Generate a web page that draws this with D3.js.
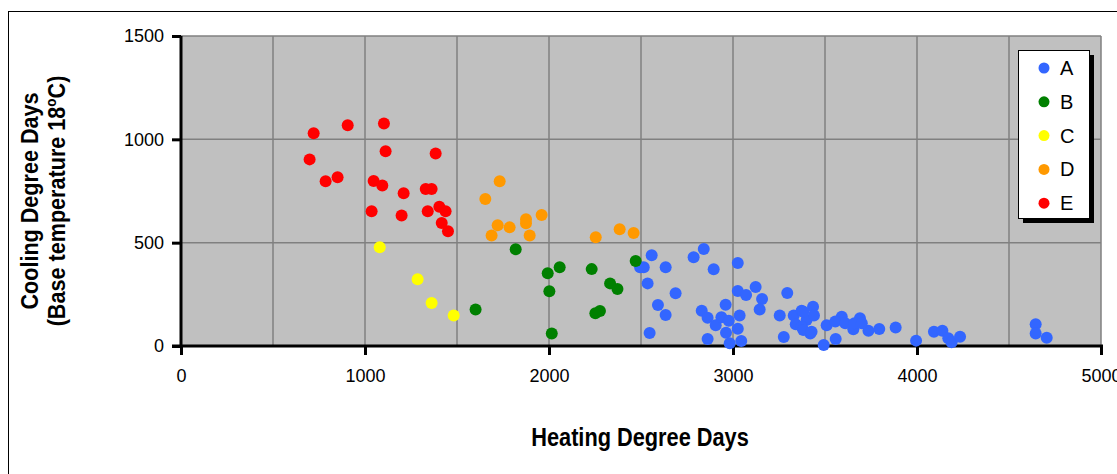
<!DOCTYPE html>
<html>
<head>
<meta charset="utf-8">
<script src="https://cdn.jsdelivr.net/npm/d3@7"></script>
<style>
body{margin:0;background:#fff;}
text{font-family:"Liberation Sans",Arial,sans-serif;}
</style>
</head>
<body>
<div id="viz"></div>
<script>
// series: [heating degree days, cooling degree days]
var seriesA = [[2558,439],[2495,381],[2515,381],[2634,381],[2536,303],[2688,255],[2592,198],[2634,150],[2547,63],
  [2841,469],[2786,429],[2895,371],[3026,402],[3026,266],[3071,247],[3123,285],[3158,227],[3145,177],[3295,256],
  [2960,200],[2830,171],[2862,137],[2906,100],[2937,139],[2977,122],[3036,148],[2962,64],[3026,84],[2862,34],[2982,13],[3045,24],
  [3254,148],[3276,44],[3330,148],[3373,171],[3341,105],[3400,126],[3435,190],[3440,148],[3373,93],[3420,61],[3382,77],[3382,166],[3427,69],
  [3493,5],[3509,100],[3558,34],[3591,142],[3556,118],[3654,81],[3690,134],[3736,74],[3795,82],[3884,89],[3610,110],[3660,110],[3700,110],
  [3995,26],[4092,69],[4138,74],[4170,37],[4188,18],[4234,45],[4645,105],[4645,61],[4705,40]];
var seriesB = [[1601,177],[1819,468],[1993,352],[2058,381],[2002,265],[2015,61],[2232,372],[2332,303],[2372,276],[2252,158],[2277,169],[2471,411]];
var seriesC = [[1080,478],[1286,323],[1362,208],[1482,148]];
var seriesD = [[1732,797],[1654,711],[1721,584],[1786,574],[1688,535],[1875,613],[1875,594],[1895,535],[1960,634],[2254,526],[2384,565],[2460,547]];
var seriesE = [[721,1030],[906,1068],[1103,1077],[699,903],[1112,942],[1384,932],[786,797],[851,816],[1047,798],[1094,777],[1210,739],
  [1330,760],[1362,760],[1036,652],[1199,632],[1341,652],[1404,674],[1438,652],[1417,595],[1451,555]];

var names = ['A','B','C','D','E'];
var colors = ['#3366ff','#008000','#ffff00','#ff9900','#ff0000'];
var allSeries = [seriesA, seriesB, seriesC, seriesD, seriesE];
var xTicks = [0,1000,2000,3000,4000,5000];
var yTicks = [0,500,1000,1500];
var gridX = d3.range(500,5001,500);
var gridY = [500,1000,1500];

var W = 1117, H = 474;
var svg = d3.select('#viz').append('svg')
    .attr('width',W)
    .attr('height',H);

// chart area border
svg.append('rect')
    .attr('x',8.5).attr('y',11.5)
    .attr('width',W).attr('height',H)
    .style('fill','#fff').style('stroke','#000').style('stroke-width',1);

var x = d3.scaleLinear().domain([0,5000]).range([181,1101]);
var y = d3.scaleLinear().domain([0,1500]).range([346,36]);

// plot area
svg.append('rect')
    .attr('x',x(0)).attr('y',y(1500))
    .attr('width',x(5000)-x(0)).attr('height',y(0)-y(1500))
    .style('fill','#c0c0c0');

svg.selectAll('.gx').data(gridX).enter().append('line')
    .attr('x1',function(d){return x(d);}).attr('x2',function(d){return x(d);})
    .attr('y1',y(0)).attr('y2',y(1500))
    .style('stroke','#808080').style('stroke-width',1.5);
svg.selectAll('.gy').data(gridY).enter().append('line')
    .attr('x1',x(0)).attr('x2',x(5000))
    .attr('y1',function(d){return y(d);}).attr('y2',function(d){return y(d);})
    .style('stroke','#808080').style('stroke-width',1.5);

// axes
var xAxis = d3.axisBottom(x).tickValues(xTicks).tickFormat(d3.format('d')).tickSize(9).tickPadding(14).tickSizeOuter(0);
var yAxis = d3.axisLeft(y).tickValues(yTicks).tickFormat(d3.format('d')).tickSize(9).tickPadding(8).tickSizeOuter(0);

var gx = svg.append('g').attr('transform','translate(0,'+y(0)+')').call(xAxis);
var gy = svg.append('g').attr('transform','translate('+x(0)+',0)').call(yAxis);
[gx,gy].forEach(function(g){
    g.select('.domain').remove();
    g.selectAll('.tick line').style('stroke','#000').style('stroke-width',3);
    g.selectAll('.tick text').style('font-size','18px').style('fill','#000');
});
svg.append('line').attr('x1',x(0)).attr('x2',x(0)).attr('y1',y(1500)).attr('y2',y(0)+1.5)
    .style('stroke','#000').style('stroke-width',3);
svg.append('line').attr('x1',172).attr('x2',x(5000)+2).attr('y1',y(0)).attr('y2',y(0))
    .style('stroke','#000').style('stroke-width',3);

// points
allSeries.forEach(function(s,i){
    svg.append('g').selectAll('circle').data(s).enter().append('circle')
        .attr('cx',function(d){return x(d[0]);})
        .attr('cy',function(d){return y(d[1]);})
        .attr('r',6)
        .style('fill',colors[i]);
});

// titles
svg.append('text')
    .attr('transform','translate('+((x(0)+x(5000))/2 - 1)+',446) scale(0.87,1)')
    .attr('text-anchor','middle')
    .style('font-size','25px').style('font-weight','bold')
    .text('Heating Degree Days');

var yt = svg.append('text')
    .attr('transform','translate(0,201) rotate(-90) scale(0.9,1)')
    .attr('text-anchor','middle')
    .style('font-size','24px').style('font-weight','bold');
yt.append('tspan').attr('x',0).attr('y',38).text('Cooling Degree Days');
var l2 = yt.append('tspan').attr('x',0).attr('y',65);
l2.append('tspan').text('(Base temperature 18');
l2.append('tspan').attr('dy',-9).style('font-size','15px').text('o');
l2.append('tspan').attr('dy',9).text('C)');

// legend
var lg = svg.append('g');
lg.append('rect').attr('x',1023).attr('y',55).attr('width',71).attr('height',168).style('fill','#000');
lg.append('rect').attr('x',1018.5).attr('y',50.5).attr('width',71).attr('height',168)
    .style('fill','#fff').style('stroke','#000').style('stroke-width',1);
var items = lg.selectAll('.item').data(names).enter().append('g')
    .attr('transform',function(d,i){return 'translate(1044,'+(68+i*33.8)+')';});
items.append('circle').attr('r',5.5).style('fill',function(d,i){return colors[i];});
items.append('text').attr('x',16).attr('y',7).style('font-size','20px').text(function(d){return d;});
</script>
</body>
</html>
